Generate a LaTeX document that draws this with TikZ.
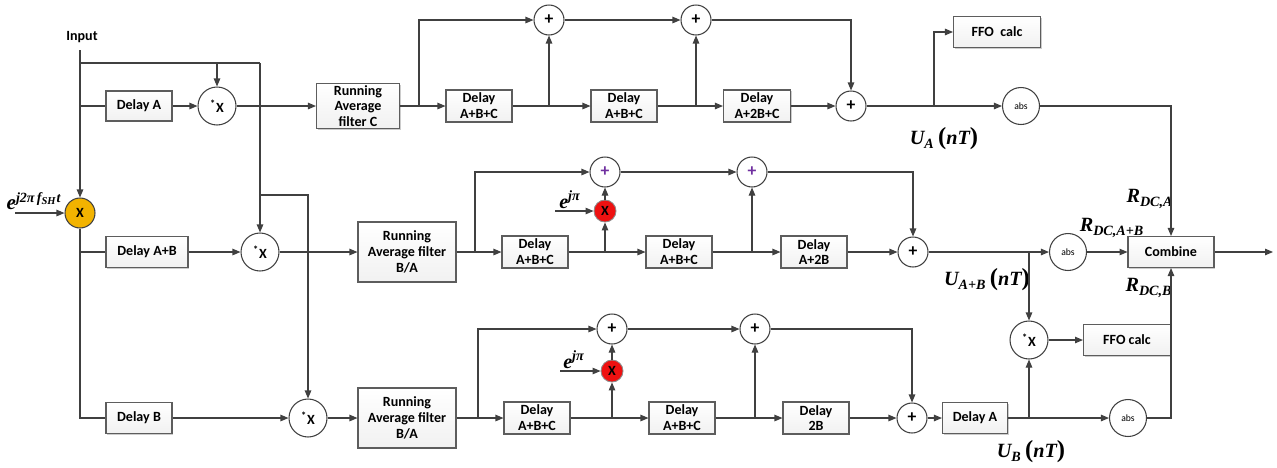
\documentclass[tikz,border=0pt]{standalone}
\usepackage{fontspec}
\setmainfont{Carlito}
\newfontfamily\lblfamily{Liberation Serif}
\usepackage{tikz}
\usepackage{xcolor}
\usetikzlibrary{positioning,arrows.meta,shadows}
\definecolor{wire}{HTML}{404040}
\definecolor{mixer}{HTML}{F2B300}
\definecolor{rotor}{HTML}{EE1111}
\definecolor{plusv}{HTML}{7030A0}
\newcommand{\lbl}[1]{{\lblfamily\bfseries\itshape #1}}
\newcommand{\cx}{\textsuperscript{*}X}

\begin{document}
\begin{tikzpicture}[x=0.02cm,y=-0.02cm,
    every node/.style={font=\fontsize{8}{9}\selectfont\bfseries},
    wire/.style={draw=wire,line width=0.6pt},
    arr/.style={wire,-{Triangle[length=1.6mm,width=1.3mm]}},
    blk/.style={draw=wire!85,line width=0.6pt,top color=white,bottom color=gray!11,
      align=center,inner sep=1pt,minimum height=0.62cm,
      drop shadow={shadow xshift=0.8pt,shadow yshift=-0.8pt,fill=black!40}},
    dly/.style={blk,minimum width=1.32cm,minimum height=0.64cm},
    raf/.style={blk,minimum width=1.96cm,minimum height=1.2cm},
    mul/.style={circle,draw=wire,line width=0.6pt,fill=white,minimum size=0.76cm,inner sep=0pt},
    add/.style={circle,draw=wire,line width=0.6pt,fill=white,minimum size=0.6cm,inner sep=0pt,
      font=\fontsize{10}{10}\selectfont\bfseries},
    addp/.style={add,text=plusv},
    absn/.style={mul,minimum size=0.74cm,font=\fontsize{5.5}{6}\selectfont},
    mix/.style={circle,draw=wire,line width=0.6pt,fill=mixer,minimum size=0.6cm,inner sep=0pt},
    rot/.style={circle,draw=wire!60,line width=0.5pt,fill=rotor,minimum size=0.44cm,inner sep=0pt},
    math/.style={font=\fontsize{11.5}{12}\selectfont}]
  \useasboundingbox (0,0) rectangle (1277,467);

  % top branch
  \node (input) at (82,37) {Input};
  \coordinate (in0) at (80,50);
  \node[blk,minimum width=1.32cm,minimum height=0.6cm] (dA) at (139,106) {Delay A};
  \node[mul] (m1) at (217,106) {\cx};
  \node[blk,minimum width=1.66cm,minimum height=0.88cm] (rafC) at (358,106) {Running\\Average\\filter C};
  \node[dly] (d1) at (479,106) {Delay\\A+B+C};
  \node[dly] (d2) at (624,106) {Delay\\A+B+C};
  \node[dly,minimum width=1.34cm] (d3) at (757,106) {Delay\\A+2B+C};
  \node[add] (s1) at (549,20) {+};
  \node[add] (s2) at (696,20) {+};
  \node[add] (s3) at (851,106) {+};
  \node[absn] (abs1) at (1021,106) {abs};
  \node[blk,minimum width=1.74cm] (ffo1) at (997,32) {FFO\ \ calc};

  % middle branch
  \node[mix] (mx) at (80,213) {X};
  \node[blk,minimum width=1.64cm] (dAB) at (147,252) {Delay A+B};
  \node[mul] (m2) at (260,252) {\cx};
  \node[raf] (rafM) at (407,252) {Running\\Average filter\\B/A};
  \node[dly] (d4) at (535,252) {Delay\\A+B+C};
  \node[rot] (r1) at (605,211) {X};
  \node[addp] (s4) at (605,172) {+};
  \node[dly] (d5) at (679,252) {Delay\\A+B+C};
  \node[addp] (s5) at (752,172) {+};
  \node[dly] (d6) at (814,252) {Delay\\A+2B};
  \node[add] (s6) at (913,252) {+};
  \node[absn] (abs2) at (1068,252) {abs};
  \node[blk,minimum width=1.72cm] (comb) at (1171,252) {Combine};

  % bottom branch
  \node[blk,minimum width=1.32cm] (dB) at (139,418) {Delay B};
  \node[mul] (m3) at (308,418) {\cx};
  \node[raf] (rafB) at (407,418) {Running\\Average filter\\B/A};
  \node[dly] (d7) at (537,418) {Delay\\A+B+C};
  \node[rot] (r2) at (612,371) {X};
  \node[add] (s7) at (612,329) {+};
  \node[dly] (d8) at (682,418) {Delay\\A+B+C};
  \node[add] (s8) at (755,329) {+};
  \node[dly] (d9) at (816,418) {Delay\\2B};
  \node[add] (s9) at (912,418) {+};
  \node[blk,minimum width=1.3cm] (dA2) at (975,418) {Delay A};
  \node[mul] (m4) at (1029,340) {\cx};
  \node[blk,minimum width=1.74cm] (ffo2) at (1127,340) {FFO calc};
  \node[absn] (abs3) at (1128,418) {abs};

  % labels
  \node[math] (ua) at (944,139) {\lbl{U\textsubscript{A}\,{\upshape\fontsize{14}{14}\selectfont(}nT{\upshape\fontsize{14}{14}\selectfont)}}};
  \node[math] (uab) at (987,280) {\lbl{U\textsubscript{A+B}\,{\upshape\fontsize{14}{14}\selectfont(}nT{\upshape\fontsize{14}{14}\selectfont)}}};
  \node[math] (ub) at (1031,452) {\lbl{U\textsubscript{B}\,{\upshape\fontsize{14}{14}\selectfont(}nT{\upshape\fontsize{14}{14}\selectfont)}}};
  \node[math] (rda) at (1150,199) {\lbl{R\textsubscript{DC,A}}};
  \node[math] (rdab) at (1112,228) {\lbl{R\textsubscript{DC,A+B}}};
  \node[math] (rdb) at (1149,288) {\lbl{R\textsubscript{DC,B}}};
  \node[font=\fontsize{12}{12}\selectfont,inner sep=0pt] (ef) at (34,201) {\lbl{e\textsuperscript{j2π\,f\textsubscript{SH}t}}};
  \node[math] (ep1) at (570,200) {\lbl{e\textsuperscript{jπ}}};
  \node[math] (ep2) at (574,360) {\lbl{e\textsuperscript{jπ}}};

  % input distribution
  \coordinate (j1) at (80,63);
  \coordinate (c1) at (260,63);
  \coordinate (j2) at (260,195);
  \draw[arr] (in0) -- (mx);
  \draw[wire] (j1) -- (c1);
  \draw[arr] (c1) -- (m2);
  \draw[arr] (m1 |- j1) -- (m1);
  \draw[arr] (j2) -| (m3);
  \draw[wire] (in0 |- dA) -- (dA);
  \coordinate (e0) at (15,213);
  \draw[arr] (e0) -- (mx);
  \draw[wire] (mx) |- (dB);
  \draw[wire] (mx |- dAB) -- (dAB);

  % top chain
  \draw[arr] (dA) -- (m1);
  \draw[arr] (m1) -- (rafC);
  \draw[arr] (rafC) -- (d1);
  \coordinate (t1) at (419,106);
  \draw[arr] (t1) |- (s1);
  \draw[arr] (d1) -- (d2);
  \draw[arr] (s1 |- d1) -- (s1);
  \draw[arr] (s1) -- (s2);
  \draw[arr] (d2) -- (d3);
  \draw[arr] (s2 |- d2) -- (s2);
  \draw[arr] (s2) -| (s3);
  \draw[arr] (d3) -- (s3);
  \draw[arr] (s3) -- (abs1);
  \coordinate (t2) at (934,106);
  \draw[arr] (t2) |- (ffo1);
  \draw[arr] (abs1) -| (comb);

  % middle chain
  \draw[arr] (dAB) -- (m2);
  \draw[arr] (m2) -- (rafM);
  \draw[arr] (rafM) -- (d4);
  \coordinate (t3) at (475,252);
  \draw[arr] (t3) |- (s4);
  \draw[arr] (d4) -- (d5);
  \draw[arr] (r1 |- d4) -- (r1);
  \draw[arr] (r1) -- (s4);
  \coordinate (e1) at (555,211);
  \draw[arr] (e1) -- (r1);
  \draw[arr] (s4) -- (s5);
  \draw[arr] (d5) -- (d6);
  \draw[arr] (s5 |- d5) -- (s5);
  \draw[arr] (s5) -| (s6);
  \draw[arr] (d6) -- (s6);
  \draw[arr] (s6) -- (abs2);
  \draw[arr] (abs2) -- (comb);
  \coordinate (out) at (1273,252);
  \draw[arr] (comb) -- (out);
  \coordinate (t4) at (1029,252);
  \draw[arr] (t4) -- (m4);

  % bottom chain
  \draw[arr] (dB) -- (m3);
  \draw[arr] (m3) -- (rafB);
  \draw[arr] (rafB) -- (d7);
  \coordinate (t5) at (478,418);
  \draw[arr] (t5) |- (s7);
  \draw[arr] (d7) -- (d8);
  \draw[arr] (r2 |- d7) -- (r2);
  \draw[arr] (r2) -- (s7);
  \coordinate (e2) at (560,371);
  \draw[arr] (e2) -- (r2);
  \draw[arr] (s7) -- (s8);
  \draw[arr] (d8) -- (d9);
  \draw[arr] (s8 |- d8) -- (s8);
  \draw[arr] (s8) -| (s9);
  \draw[arr] (d9) -- (s9);
  \draw[arr] (s9) -- (dA2);
  \draw[arr] (dA2) -- (abs3);
  \draw[arr] (m4 |- dA2) -- (m4);
  \draw[arr] (m4) -- (ffo2);
  \draw[arr] (abs3) -| (comb);
\end{tikzpicture}
\end{document}
